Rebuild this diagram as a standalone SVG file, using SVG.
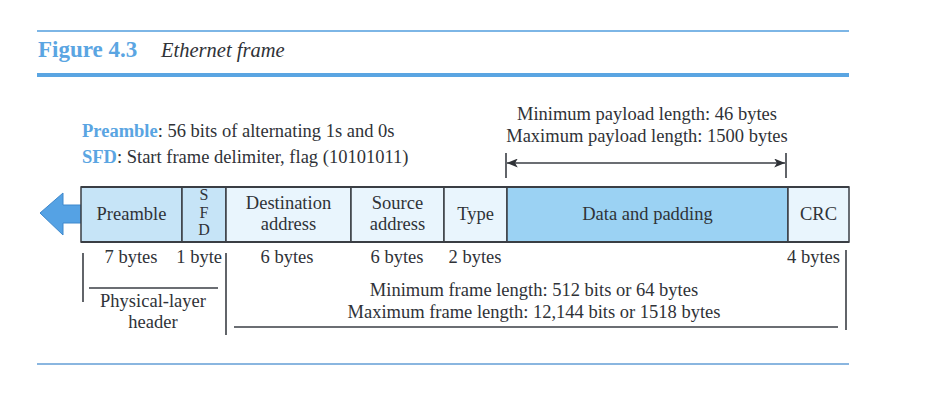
<svg xmlns="http://www.w3.org/2000/svg" width="936" height="406" viewBox="0 0 936 406">
  <style>
    text { font-family: "Liberation Serif", "Times New Roman", serif; fill: #2f3237; font-size: 18.5px; }
    .c { text-anchor: middle; }
    .r { text-anchor: end; }
    .blue { fill: #5aa5e2; font-weight: bold; }
    .sfd { font-size: 16px; }
    .cell { stroke: #3a3e44; stroke-width: 1.5; }
    .hdr { fill: #c6e4f7; }
    .fld { fill: #e9f5fd; }
    .dat { fill: #9bd2f3; }
    .ln { stroke: #3a3e44; stroke-width: 1.6; fill: none; }
  </style>
  <defs>
    <marker id="ah" viewBox="0 0 12 10" refX="12" refY="5" markerWidth="12" markerHeight="9" markerUnits="userSpaceOnUse" orient="auto-start-reverse">
      <path d="M0,0 L12,5 L0,10 L3,5 Z" fill="#2f3237"/>
    </marker>
  </defs>

  <rect width="936" height="406" fill="#ffffff"/>

  <!-- title band -->
  <line x1="37" y1="31" x2="849" y2="31" stroke="#7db6e6" stroke-width="2"/>
  <text x="38" y="57" class="blue" style="font-size:23px">Figure 4.3</text>
  <text x="161" y="57" style="font-size:20.5px;font-style:italic">Ethernet frame</text>
  <line x1="37" y1="75" x2="849" y2="75" stroke="#5aa5e2" stroke-width="4"/>

  <!-- legend -->
  <text x="82" y="137"><tspan class="blue">Preamble</tspan>: 56 bits of alternating 1s and 0s</text>
  <text x="82" y="163"><tspan class="blue">SFD</tspan>: Start frame delimiter, flag (10101011)</text>

  <!-- payload length span -->
  <text x="647" y="120" class="c">Minimum payload length: 46 bytes</text>
  <text x="647" y="142" class="c">Maximum payload length: 1500 bytes</text>

  <!-- direction of transmission -->
  <path d="M40,213 L63,193 L63,205 L81,205 L81,223 L63,223 L63,235 Z" fill="#55a2e4" stroke="#3f88cc" stroke-width="1"/>

  <!-- frame fields -->
  <g id="preamble">
    <rect x="81" y="187" width="101" height="55" class="cell hdr"/>
    <text x="131.5" y="220" class="c">Preamble</text>
  </g>
  <g id="sfd">
    <rect x="182" y="187" width="44" height="55" class="cell hdr"/>
    <text x="204" y="200" class="c sfd">S</text>
    <text x="204" y="217.5" class="c sfd">F</text>
    <text x="204" y="235" class="c sfd">D</text>
  </g>
  <g id="destination">
    <rect x="226" y="187" width="125" height="55" class="cell fld"/>
    <text x="288.5" y="209" class="c">Destination</text>
    <text x="288.5" y="230" class="c">address</text>
  </g>
  <g id="source">
    <rect x="351" y="187" width="93" height="55" class="cell fld"/>
    <text x="397.5" y="209" class="c">Source</text>
    <text x="397.5" y="230" class="c">address</text>
  </g>
  <g id="type">
    <rect x="444" y="187" width="63" height="55" class="cell fld"/>
    <text x="475.5" y="220" class="c">Type</text>
  </g>
  <g id="data">
    <rect x="507" y="187" width="281" height="55" class="cell dat"/>
    <text x="647.5" y="220" class="c">Data and padding</text>
  </g>
  <g id="crc">
    <rect x="788" y="187" width="61" height="55" class="cell fld"/>
    <text x="818.5" y="220" class="c">CRC</text>
  </g>
  <line x1="81" y1="187" x2="849" y2="187" stroke="#3a3e44" stroke-width="2"/>
  <line x1="81" y1="242" x2="849" y2="242" stroke="#3a3e44" stroke-width="2"/>

  <!-- sizes -->
  <text x="131" y="263" class="c">7 bytes</text>
  <text x="222" y="263" class="r">1 byte</text>
  <text x="287" y="263" class="c">6 bytes</text>
  <text x="397" y="263" class="c">6 bytes</text>
  <text x="475" y="263" class="c">2 bytes</text>
  <text x="840" y="263" class="r">4 bytes</text>

  <text x="153" y="307" class="c">Physical-layer</text>
  <text x="153" y="328" class="c">header</text>

  <text x="534" y="296" class="c">Minimum frame length: 512 bits or 64 bytes</text>
  <text x="534" y="318" class="c">Maximum frame length: 12,144 bits or 1518 bytes</text>

  <!-- brackets and dimension lines -->
  <g id="connectors">
    <line x1="506" y1="153" x2="506" y2="178" class="ln"/>
    <line x1="786" y1="153" x2="786" y2="178" class="ln"/>
    <line x1="507" y1="163" x2="785" y2="163" class="ln" marker-start="url(#ah)" marker-end="url(#ah)"/>

    <line x1="83" y1="253" x2="83" y2="302" class="ln"/>
    <line x1="89" y1="288" x2="218" y2="288" class="ln"/>
    <line x1="226" y1="253" x2="226" y2="335" class="ln"/>
    <line x1="234" y1="327" x2="838" y2="327" class="ln"/>
    <line x1="846" y1="250" x2="846" y2="330" class="ln"/>
  </g>

  <!-- bottom rule -->
  <line x1="37" y1="364" x2="849" y2="364" stroke="#8ab6e0" stroke-width="2"/>
</svg>
